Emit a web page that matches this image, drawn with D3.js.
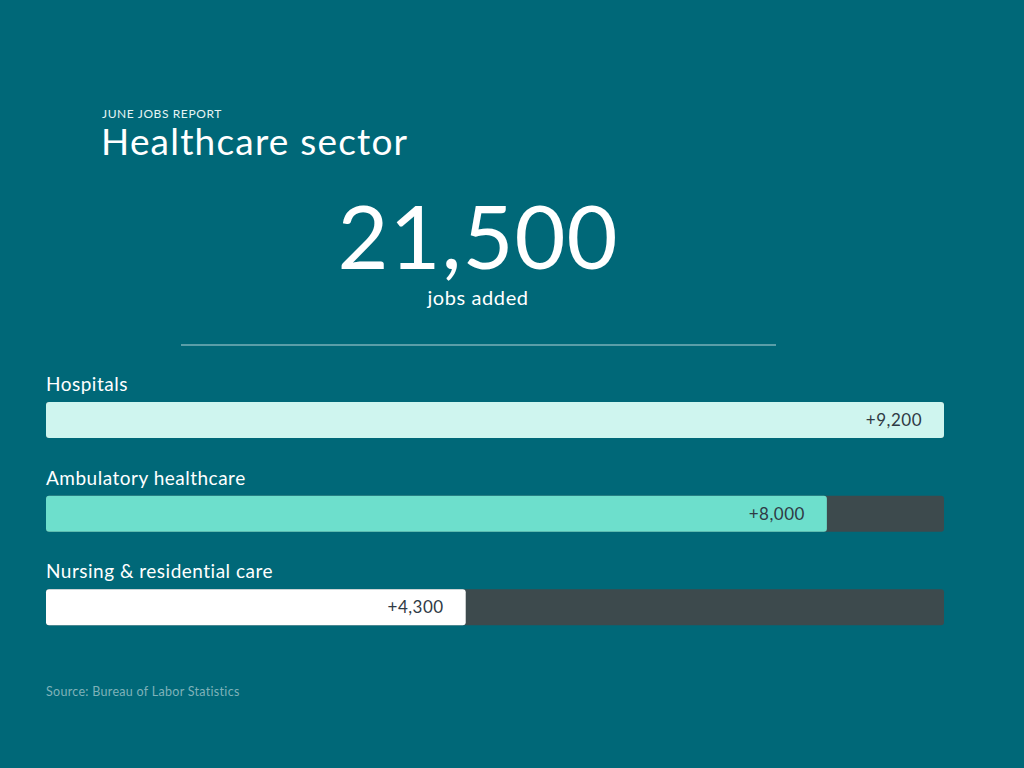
<!DOCTYPE html>
<html>
<head>
<meta charset="utf-8">
<script src="https://cdn.jsdelivr.net/npm/d3@7"></script>
<style>
  body { margin: 0; background: #006878; }
  svg { font-family: Lato, "Open Sans", sans-serif; }
</style>
</head>
<body>
<div id="plot"></div>
<script>
// workspace
var svgWidth = 1024, svgHeight = 768;
var margin = { left: 46, right: 80 };

var svg = d3.select("#plot")
    .append("svg")
    .attr("width", svgWidth)
    .attr("height", svgHeight);

svg.append("rect").attr("width", svgWidth).attr("height", svgHeight).attr("fill", "#006878");

// data
var jobData = [
    { name: "Hospitals", value: 9200, color: "#cff5ef" },
    { name: "Ambulatory healthcare", value: 8000, color: "#6ddfcc" },
    { name: "Nursing & residential care", value: 4300, color: "#ffffff" }
];
var total = 21500;

// headline
svg.append("text").attr("x", 102).attr("y", 118)
    .attr("fill", "#e6f4f4").attr("font-size", "12px").attr("letter-spacing", "0.6px")
    .text("JUNE JOBS REPORT");
svg.append("text").attr("x", 101).attr("y", 155)
    .attr("fill", "#ffffff").attr("font-size", "37px").attr("letter-spacing", "1.2px")
    .text("Healthcare sector");
svg.append("text").attr("x", 478).attr("y", 269).attr("text-anchor", "middle")
    .attr("fill", "#ffffff").attr("font-size", "88px").attr("letter-spacing", "1px")
    .text(d3.format(",")(total));
svg.append("text").attr("x", 478).attr("y", 305).attr("text-anchor", "middle")
    .attr("fill", "#ffffff").attr("font-size", "20px").attr("letter-spacing", "0.6px")
    .text("jobs added");
svg.append("line").attr("x1", 181).attr("x2", 776).attr("y1", 345).attr("y2", 345)
    .attr("stroke", "#5a9ea8").attr("stroke-width", 2);

// scales
var xScale = d3.scaleLinear()
    .domain([0, d3.max(jobData, d => d.value)])
    .range([margin.left, svgWidth - margin.right]);
var yScale = d3.scaleBand()
    .domain(jobData.map(d => d.name))
    .range([372, 653]);

var rows = svg.selectAll(".row").data(jobData).enter().append("g")
    .attr("transform", d => `translate(0, ${yScale(d.name)})`);

rows.append("text").attr("x", margin.left).attr("y", 19)
    .attr("fill", "#ffffff").attr("font-size", "19px").attr("letter-spacing", "0.5px")
    .text(d => d.name);

// track
rows.append("rect").attr("x", xScale(0)).attr("y", 30)
    .attr("width", xScale.range()[1] - xScale(0)).attr("height", 36)
    .attr("rx", 3).attr("fill", "#3d4a4d");

rows.append("rect").attr("x", xScale(0)).attr("y", 30)
    .attr("width", d => xScale(d.value) - xScale(0)).attr("height", 36)
    .attr("rx", 3).attr("fill", d => d.color);

rows.append("text").attr("x", d => xScale(d.value) - 22).attr("y", 54)
    .attr("text-anchor", "end").attr("fill", "#2f3a45").attr("font-size", "17px")
    .attr("letter-spacing", "0.5px")
    .text(d => "+" + d3.format(",")(d.value));

svg.append("text").attr("x", 46).attr("y", 696)
    .attr("fill", "#7fb2b9").attr("font-size", "12.5px").attr("letter-spacing", "0.3px")
    .text("Source: Bureau of Labor Statistics");
</script>
</body>
</html>
